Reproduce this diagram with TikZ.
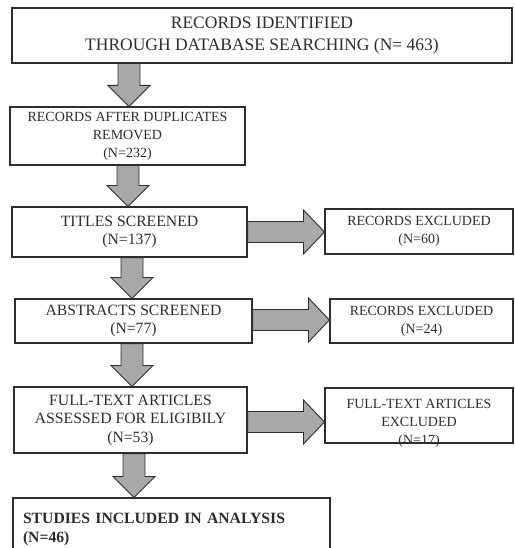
\documentclass[tikz,border=0pt]{standalone}
\usepackage{fontspec}
\setmainfont{Liberation Serif}
\usepackage{tikz}
\usetikzlibrary{calc}
\definecolor{arrgray}{RGB}{168,168,168}
\definecolor{edgegray}{RGB}{45,45,45}

% block arrow from node #1 down to node #2, at x = #3
\newcommand{\blkdown}[3]{%
  \path (#3,0 |- #1.south) coordinate (bs) (#3,0 |- #2.north) coordinate (be);
  \draw[blk] ($(bs)+(-11,0)$) -- ($(bs)+(11,0)$) -- ($(be)+(11,-21)$) -- ($(be)+(21,-21)$)
    -- (be) -- ($(be)+(-21,-21)$) -- ($(be)+(-11,-21)$) -- cycle;
}
% block arrow from node #1 right to node #2, at y = #3
\newcommand{\blkright}[3]{%
  \path (#1.east |- 0,#3) coordinate (bs) (#2.west |- 0,#3) coordinate (be);
  \draw[blk] ($(bs)+(0,-10.5)$) -- ($(be)+(-21,-10.5)$) -- ($(be)+(-21,-22)$) -- (be)
    -- ($(be)+(-21,22)$) -- ($(be)+(-21,10.5)$) -- ($(bs)+(0,10.5)$) -- cycle;
}

\begin{document}
\begin{tikzpicture}[
  x=1pt, y=-1pt,
  box/.style={draw=edgegray, line width=1.1pt, rectangle, inner sep=2pt, align=center, text=edgegray},
  bigtxt/.style={font=\fontsize{17.5}{22}\selectfont},
  midtxt/.style={font=\fontsize{15.7}{18.5}\selectfont},
  smltxt/.style={font=\fontsize{14}{18}\selectfont},
  blk/.style={draw=edgegray, line width=0.9pt, fill=arrgray, line join=miter},
]
\useasboundingbox (0,0) rectangle (514,548);
\clip (0,0) rectangle (514,548);

\node[box, bigtxt, minimum width=500, minimum height=55] (ident) at (262,35.5)
  {RECORDS IDENTIFIED\\THROUGH DATABASE SEARCHING (N= 463)};
\node[box, smltxt, minimum width=235, minimum height=58] (dupl) at (127.5,136)
  {RECORDS AFTER DUPLICATES\\REMOVED\\(N=232)};
\node[box, midtxt, minimum width=235, minimum height=50] (titles) at (129.5,232)
  {TITLES SCREENED\\(N=137)};
\node[box, smltxt, minimum width=188, minimum height=45] (exclA) at (419,231.5)
  {RECORDS EXCLUDED\\(N=60)};
\node[box, midtxt, minimum width=237, minimum height=44] (abstr) at (133.5,321)
  {ABSTRACTS SCREENED\\(N=77)};
\node[box, smltxt, minimum width=183, minimum height=44] (exclB) at (421.5,321)
  {RECORDS EXCLUDED\\(N=24)};
\node[box, midtxt, minimum width=233, minimum height=66] (fulltxt) at (130.5,420)
  {FULL-TEXT ARTICLES\\ASSESSED FOR ELIGIBILY\\(N=53)};
\node[box, minimum width=188, minimum height=55] (exclC) at (419,415.5) {};
\node[smltxt, align=center, text=edgegray, inner sep=0pt] (exclCtxt) at (419,423)
  {FULL-TEXT ARTICLES\\EXCLUDED\\(N=17)};
\node[box, midtxt, minimum width=317, minimum height=62, text width=297, align=left,
  font=\fontsize{15.7}{19}\selectfont\bfseries] (incl) at (171.5,529)
  {STUDIES INCLUDED IN ANALYSIS\\(N=46)};

\blkdown{ident}{dupl}{129}
\blkdown{dupl}{titles}{128}
\blkdown{titles}{abstr}{132}
\blkdown{abstr}{fulltxt}{132}
\blkdown{fulltxt}{incl}{134}

\blkright{titles}{exclA}{232}
\blkright{abstr}{exclB}{320}
\blkright{fulltxt}{exclC}{422}
\end{tikzpicture}
\end{document}
